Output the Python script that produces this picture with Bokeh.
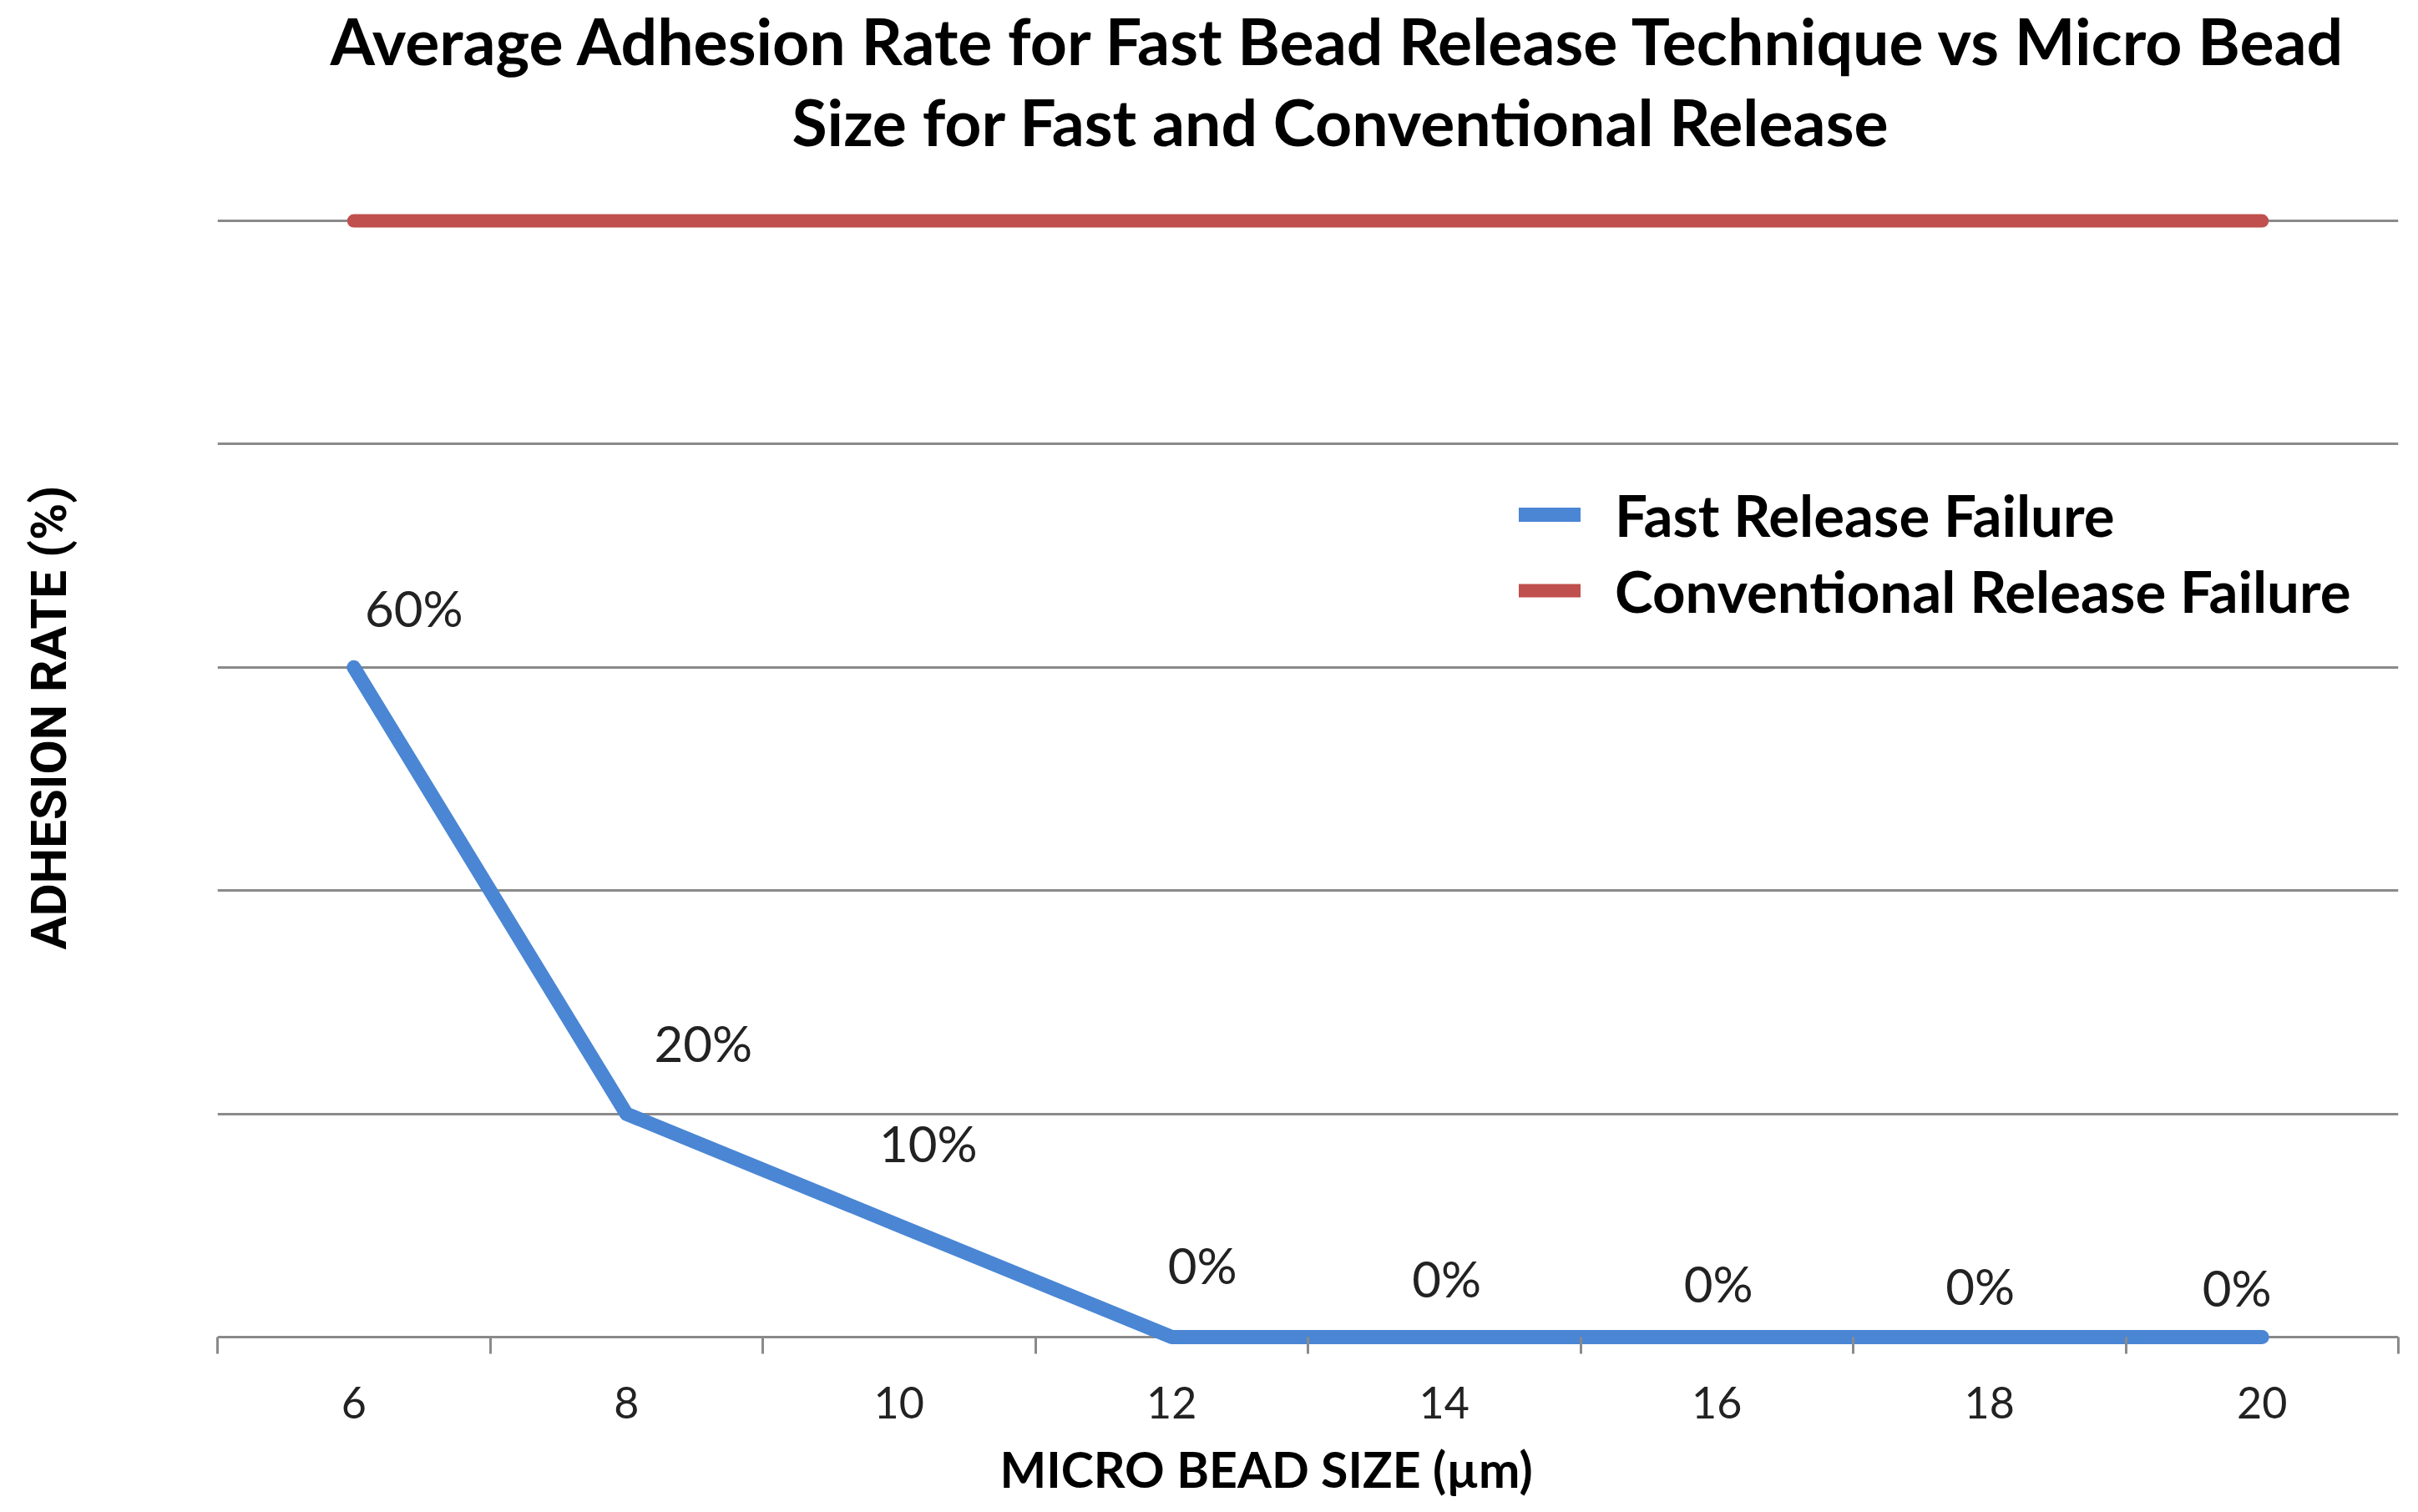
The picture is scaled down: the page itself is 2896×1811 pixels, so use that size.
from bokeh.plotting import figure
from bokeh.models import (ColumnDataSource, Range1d, FixedTicker, LabelSet,
                          Legend, LegendItem, Title)
from bokeh.core.properties import value
from bokeh.embed import file_html
from bokeh.resources import INLINE

# ---------------- data ----------------
bead_sizes = ["6", "8", "10", "12", "14", "16", "18", "20"]
fast_release_failure = [60, 20, 10, 0, 0, 0, 0, 0]
conventional_release_failure = [100, 100, 100, 100, 100, 100, 100, 100]
y_gridlines = [0, 20, 40, 60, 80, 100]
title_lines = ["Average Adhesion Rate for Fast Bead Release Technique vs Micro Bead",
               "Size for Fast and Conventional Release"]
x_title = "MICRO BEAD SIZE  (\u00b5m)"
y_title = "ADHESION RATE  (%)"
series_names = ["Fast Release Failure", "Conventional Release Failure"]

# ---------------- styling ----------------
BLUE = "#4A86D4"
RED = "#C0504D"
GRID = "#8A8A8A"
TEXT = "#222222"
# pixel offsets of the data labels (dx right, dy up)
LABEL_DX = [72, 92, 35, 37, 3, 2, -11, -30]
LABEL_DY = [71, 85, 99, 86, 70, 64, 61, 59]

n = len(bead_sizes)
xs = [i + 0.5 for i in range(n)]
bounds = [i for i in range(n + 1)]

p = figure(width=2888, height=1811, x_range=Range1d(0, n), y_range=Range1d(-1.5, 103),
           output_backend="svg", toolbar_location=None, y_axis_location=None,
           min_border_left=260, min_border_right=16, min_border_top=224, min_border_bottom=190)
p.outline_line_color = None
p.background_fill_color = "white"
p.border_fill_color = "white"

# x axis: category labels at centres, tick marks between categories
p.xaxis.ticker = FixedTicker(ticks=xs, minor_ticks=bounds)
p.xaxis.major_label_overrides = {x: s for x, s in zip(xs, bead_sizes)}
p.xaxis.major_tick_in = 0
p.xaxis.major_tick_out = 0
p.xaxis.minor_tick_in = 20
p.xaxis.minor_tick_out = 0
p.xaxis.minor_tick_line_color = GRID
p.xaxis.minor_tick_line_width = 3
p.xaxis.axis_line_color = None
p.xaxis.major_label_standoff = 39
p.xaxis.major_label_text_font = "Lato"
p.xaxis.major_label_text_font_size = "52px"
p.xaxis.major_label_text_color = TEXT
p.xgrid.visible = False

p.ygrid.ticker = FixedTicker(ticks=y_gridlines)
p.ygrid.grid_line_color = GRID
p.ygrid.grid_line_width = 3

r_fast = p.line(xs, fast_release_failure, line_color=BLUE, line_width=17,
                line_cap="round", line_join="round")
r_conv = p.line(xs, conventional_release_failure, line_color=RED, line_width=16,
                line_cap="round", line_join="round")

src = ColumnDataSource(dict(x=xs, y=fast_release_failure,
                            text=[f"{v}%" for v in fast_release_failure],
                            dx=LABEL_DX, dy=LABEL_DY))
p.add_layout(LabelSet(x="x", y="y", text="text", x_offset="dx", y_offset="dy", source=src,
                      text_align="center", text_baseline="middle",
                      text_font=value("Lato"), text_font_size=value("60px"),
                      text_color=TEXT))

legend = Legend(items=[LegendItem(label=series_names[0], renderers=[r_fast]),
                       LegendItem(label=series_names[1], renderers=[r_conv])],
                location=(1559, 872), padding=0, margin=0, spacing=7,
                glyph_width=74, glyph_height=84, label_height=84, label_standoff=41,
                border_line_color=None, background_fill_alpha=0)
legend.label_text_font = "Lato"
legend.label_text_font_style = "bold"
legend.label_text_font_size = "69px"
legend.label_text_color = "black"
p.add_layout(legend)

# titles (second line first: later titles are stacked further from the frame)
p.add_layout(Title(text=title_lines[1], align="left", offset=688, standoff=67,
                   text_font="Lato", text_font_style="bold", text_font_size="77px",
                   text_color="black"), "above")
p.add_layout(Title(text=title_lines[0], align="left", offset=135, standoff=-60,
                   text_font="Lato", text_font_style="bold", text_font_size="77px",
                   text_color="black"), "above")

# axis titles: blank lines in the text box keep them clear of the frame
p.add_layout(Title(text="\n" + x_title, align="left", offset=937, standoff=-125,
                   vertical_align="top", text_line_height=1.2,
                   text_font="Lato", text_font_style="bold", text_font_size="59px",
                   text_color="black"), "below")
p.add_layout(Title(text=y_title + "\n\n", align="left", offset=484, standoff=-8,
                   text_line_height=1.2,
                   text_font="Roboto", text_font_style="bold", text_font_size="60px",
                   text_color="black"), "left")

open("out.html", "w").write(file_html(p, INLINE))
